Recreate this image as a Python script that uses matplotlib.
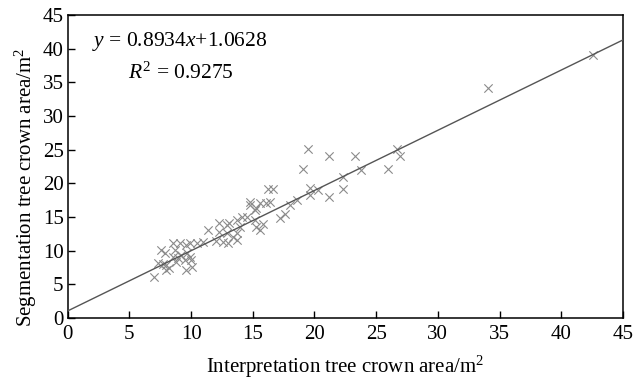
import matplotlib
matplotlib.use("Agg")
import matplotlib.pyplot as plt
import numpy as np

# interpretation (x) vs segmentation (y) tree crown area, m^2
interp_area = [
    7.0, 7.3, 7.6, 7.7, 7.9, 8.0, 8.0, 8.2, 8.5, 8.5, 8.7, 8.8, 8.9, 9.1, 9.2,
    9.5, 9.6, 9.6, 9.7, 9.9, 9.9, 10.0, 10.1, 10.5, 11.0, 11.4, 12.0, 12.3,
    12.3, 12.6, 12.9, 12.9, 13.0, 13.1, 13.4, 13.7, 13.7, 13.7, 14.0, 14.1,
    14.5, 14.8, 14.8, 15.2, 15.2, 15.3, 15.3, 15.6, 15.6, 15.8, 16.1, 16.2,
    16.4, 16.6, 17.2, 17.6, 18.0, 18.6, 19.1, 19.5, 19.6, 19.6, 20.3, 21.2,
    21.2, 22.3, 22.3, 23.3, 23.8, 26.0, 26.7, 26.9, 34.1, 42.6,
]
seg_area = [
    6.1, 8.2, 10.1, 8.0, 9.7, 7.9, 7.1, 7.5, 9.1, 11.1, 10.1, 8.3, 8.9, 11.1,
    9.3, 8.6, 7.1, 10.8, 9.7, 9.1, 11.1, 8.6, 7.6, 11.1, 11.3, 13.1, 11.5,
    14.1, 12.8, 11.3, 13.8, 12.6, 11.1, 14.1, 12.0, 11.6, 14.6, 12.6, 13.5,
    15.0, 15.0, 16.8, 17.2, 16.0, 14.6, 16.3, 13.5, 13.1, 17.1, 14.0, 17.1,
    19.2, 17.2, 19.2, 14.9, 15.5, 16.8, 17.5, 22.1, 25.1, 19.3, 18.3, 19.0,
    24.1, 18.0, 19.2, 21.0, 24.1, 22.0, 22.1, 25.1, 24.1, 34.2, 39.1,
]
slope = 0.8934
intercept = 1.0628
r2 = 0.9275

plt.rcParams["font.family"] = ["Liberation Serif", "DejaVu Serif"]
plt.rcParams["mathtext.fontset"] = "custom"
plt.rcParams["mathtext.rm"] = "Liberation Serif"
plt.rcParams["mathtext.it"] = "Liberation Serif:italic"

fig = plt.figure(figsize=(6.33, 3.8), dpi=100)
ax = fig.add_axes([0.107, 0.163, 0.877, 0.798])

ax.scatter(interp_area, seg_area, marker="x", s=36, color="#8a8a8a",
           linewidths=0.8, zorder=2)

fit_x = np.array([0, 45])
ax.plot(fit_x, slope * fit_x + intercept, color="#555555", linewidth=1.0,
        zorder=3)

ax.set_xlim(0, 45)
ax.set_ylim(0, 45)
ax.set_xticks(range(0, 46, 5))
ax.set_yticks(range(0, 46, 5))
ax.tick_params(direction="in", length=5, width=1, labelsize=15,
               top=False, right=False)
ax.tick_params(axis="x", pad=5)
ax.tick_params(axis="y", pad=3)
for side in ax.spines.values():
    side.set_linewidth(1.1)

xl = ax.set_xlabel("Interpretation tree crown area/m$^2$", fontsize=15)
yl = ax.set_ylabel("Segmentation tree crown area/m$^2$", fontsize=15)
xl.set_va("center")
yl.set_va("center")
ax.xaxis.set_label_coords(0.5, -0.162)
ax.yaxis.set_label_coords(-0.076, 0.432)

ax.text(2.0, 41.0, f"$y$ = {slope}$x$+{intercept}", fontsize=15.5,
        va="center", ha="left")
ax.text(4.85, 36.4, f"$R^2$ = {r2}", fontsize=15.5, va="center", ha="left")

fig.savefig("out.png", dpi=100)
